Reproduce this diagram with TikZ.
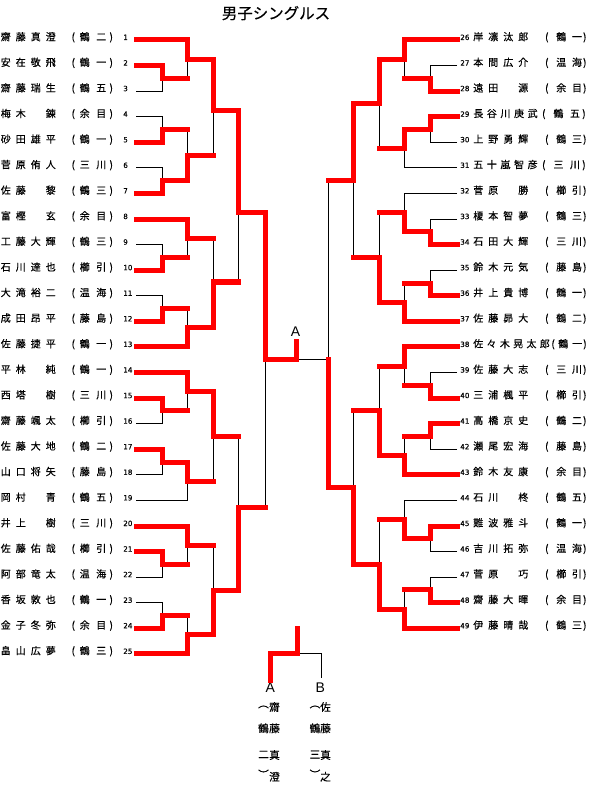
\documentclass[tikz,border=0pt]{standalone}
\usepackage{fontspec}
\setmainfont{Noto Sans CJK JP}
\newfontfamily\cjkb{Noto Sans CJK JP}[FakeBold=0.35]
\newfontfamily\numfont{DejaVu Sans}[FakeBold=0.3]
\newfontfamily\latfont{Liberation Sans}
\pgfdeclarelayer{bg}
\pgfsetlayers{bg,main}
\newdimen\pxu \pxu=0.75pt
% name set in cells of equal pitch
\newcommand\namecells[2]{\def\ncpitch{#1}\ncloop#2\relax}
\def\ncloop#1{\ifx#1\relax\else\makebox[\ncpitch\pxu][c]{#1}\expandafter\ncloop\fi}
% club: (c1c2) with given gaps between centres
\newcommand\clubtext[5]{\makebox[0pt][c]{(}\kern#1\pxu\makebox[0pt][c]{#4}\kern#2\pxu\makebox[0pt][c]{#5}\kern#3\pxu\makebox[0pt][c]{)}}
\tikzset{
  bline/.style={draw=black, line width=0.75pt},
  win/.style={draw=red, line width=3.75pt, line cap=rect, line join=miter},
  txt/.style={inner sep=0pt, anchor=base west, font=\cjkb\fontsize{7.5pt}{8pt}\selectfont},
  num/.style={inner sep=0pt, anchor=base west, font=\numfont\fontsize{5.4pt}{6pt}\selectfont},
  ttl/.style={inner sep=0pt, anchor=base, font=\cjkb\fontsize{11.6pt}{13pt}\selectfont},
  lab/.style={inner sep=0pt, anchor=base, font=\latfont\fontsize{10.5pt}{12pt}\selectfont},
  vch/.style={inner sep=0pt, anchor=center, font=\cjkb\fontsize{8pt}{9pt}\selectfont},
}
% left entrant
\newcommand\entL[4]{%
  \pgfmathsetmacro\yy{40+(#1-1)*25.58}%
  \coordinate (e#1) at (136,\yy);
  \node[txt] (nm#1) at (-2,\yy+0.5) {\namecells{15}{#2}};
  \node[txt] (cl#1) at (73,\yy+0.5) {\clubtext{11.5}{16.5}{10}{#3}{#4}};
  \node[num] (no#1) at (123,\yy) {#1};}
% right entrant, general
\newcommand\entRx[9]{%
  \pgfmathsetmacro\yy{40+(#1-26)*25.58}%
  \pgfmathsetmacro\xs{478-#2/2}%
  \coordinate (e#1) at (457,\yy);
  \node[num] (no#1) at (460,\yy) {#1};
  \node[txt] (nm#1) at (\xs,\yy+0.5) {\namecells{#2}{#3}};
  \node[txt] (cl#1) at (#4,\yy+0.5) {\clubtext{#5}{#6}{#7}{#8}{#9}};}
\newcommand\entR[4]{\entRx{#1}{15}{#2}{546.5}{14.5}{15.7}{7.8}{#3}{#4}}
% bracket helpers
\newcommand\win[2]{\draw[win] (#1) -| (#2);}
\newcommand\losm[2]{\draw[win] (#1) -- (#1 -| #2);
  \begin{pgfonlayer}{bg}\draw[bline] (#1 -| #2) -- (#2);\end{pgfonlayer}}
\newcommand\lose[2]{\begin{pgfonlayer}{bg}\draw[bline] (#1) -| (#2);\end{pgfonlayer}}

\begin{document}
\begin{tikzpicture}[x=0.75pt,y=-0.75pt]
\useasboundingbox (0,0) rectangle (593,791);
\node[ttl] (title) at (276,19) {男子シングルス};

% ---------- entrants ----------
\entL{1}{齋藤真澄}{鶴}{二}
\entL{2}{安在敬飛}{鶴}{一}
\entL{3}{齋藤瑞生}{鶴}{五}
\entL{4}{梅木　錬}{余}{目}
\entL{5}{砂田雄平}{鶴}{一}
\entL{6}{菅原侑人}{三}{川}
\entL{7}{佐藤　黎}{鶴}{三}
\entL{8}{富樫　玄}{余}{目}
\entL{9}{工藤大輝}{鶴}{三}
\entL{10}{石川達也}{櫛}{引}
\entL{11}{大滝裕二}{温}{海}
\entL{12}{成田昂平}{藤}{島}
\entL{13}{佐藤捷平}{鶴}{一}
\entL{14}{平林　純}{鶴}{一}
\entL{15}{西塔　樹}{三}{川}
\entL{16}{齋藤颯太}{櫛}{引}
\entL{17}{佐藤大地}{鶴}{二}
\entL{18}{山口将矢}{藤}{島}
\entL{19}{岡村　青}{鶴}{五}
\entL{20}{井上　樹}{三}{川}
\entL{21}{佐藤佑哉}{櫛}{引}
\entL{22}{阿部竜太}{温}{海}
\entL{23}{香坂敦也}{鶴}{一}
\entL{24}{金子冬弥}{余}{目}
\entL{25}{畠山広夢}{鶴}{三}

\entR{26}{岸凛汰郎}{鶴}{一}
\entR{27}{本間広介}{温}{海}
\entR{28}{遠田　源}{余}{目}
\entRx{29}{13.6}{長谷川庚武}{543.5}{14.7}{16.5}{9}{鶴}{五}
\entR{30}{上野勇輝}{鶴}{三}
\entRx{31}{13.6}{五十嵐智彦}{543.5}{14.7}{16.5}{9}{三}{川}
\entR{32}{菅原　勝}{櫛}{引}
\entR{33}{榎本智夢}{鶴}{三}
\entR{34}{石田大輝}{三}{川}
\entR{35}{鈴木元気}{藤}{島}
\entR{36}{井上貴博}{鶴}{一}
\entR{37}{佐藤昴大}{鶴}{二}
\entRx{38}{13.3}{佐々木晃太郎}{552.8}{10.2}{14}{7.7}{鶴}{一}
\entR{39}{佐藤大志}{三}{川}
\entR{40}{三浦楓平}{櫛}{引}
\entR{41}{高橋京史}{鶴}{二}
\entR{42}{瀬尾宏海}{藤}{島}
\entR{43}{鈴木友康}{余}{目}
\entR{44}{石川　柊}{鶴}{五}
\entR{45}{難波雅斗}{鶴}{一}
\entR{46}{吉川拓弥}{温}{海}
\entR{47}{菅原　巧}{櫛}{引}
\entR{48}{齋藤大暉}{余}{目}
\entR{49}{伊藤晴哉}{鶴}{三}

% ---------- match points (left) ----------
\coordinate (L1a) at (162.3,78.37);
\coordinate (L2a) at (187.7,59.19);
\coordinate (L1b) at (162.3,129.53);
\coordinate (L1c) at (162.3,180.69);
\coordinate (L2b) at (187.7,155.11);
\coordinate (L3a) at (213.3,110.5);
\coordinate (L1d) at (162.3,257.43);
\coordinate (L2c) at (187.7,238.25);
\coordinate (L1e) at (162.3,308.59);
\coordinate (L2d) at (187.7,327.78);
\coordinate (L3b) at (213.3,282);
\coordinate (L4a) at (238.3,212.7);
\coordinate (L1f) at (162.3,410.91);
\coordinate (L2e) at (187.7,391.73);
\coordinate (L1g) at (162.3,462.07);
\coordinate (L2f) at (187.7,481.26);
\coordinate (L3c) at (213.3,436.5);
\coordinate (L1h) at (162.3,564.39);
\coordinate (L2g) at (187.7,545.2);
\coordinate (L1i) at (162.3,615.55);
\coordinate (L2h) at (187.7,634.74);
\coordinate (L3d) at (213.3,590);
\coordinate (L4b) at (238.3,507.3);
\coordinate (L5) at (265,359);
% ---------- match points (right) ----------
\coordinate (R1a) at (430,78.37);
\coordinate (R2a) at (404.3,59.19);
\coordinate (R1b) at (430,129.53);
\coordinate (R2b) at (404.3,148.72);
\coordinate (R3a) at (379,104);
\coordinate (R1c) at (430,231.85);
\coordinate (R2c) at (404.3,212.67);
\coordinate (R1d) at (430,283.01);
\coordinate (R2d) at (404.3,302.2);
\coordinate (R3b) at (379,257.4);
\coordinate (R4a) at (353.3,181);
\coordinate (R1e) at (430,385.33);
\coordinate (R2e) at (404.3,366.15);
\coordinate (R1f) at (430,436.49);
\coordinate (R2f) at (404.3,455.68);
\coordinate (R3c) at (379,410.9);
\coordinate (R1g) at (430,538.81);
\coordinate (R2g) at (404.3,519.63);
\coordinate (R1h) at (430,589.97);
\coordinate (R2h) at (404.3,609.16);
\coordinate (R3d) at (379,564.4);
\coordinate (R4b) at (353.3,487.7);
\coordinate (R5) at (328.3,359);
\coordinate (fin) at (296,359);
\coordinate (fintop) at (296,341);

% ---------- left bracket ----------
\win{e2}{L1a} \lose{e3}{L1a}
\win{e1}{L2a} \losm{L1a}{L2a}
\win{e5}{L1b} \lose{e4}{L1b}
\win{e7}{L1c} \lose{e6}{L1c}
\win{L1c}{L2b} \losm{L1b}{L2b}
\win{L2a}{L3a} \losm{L2b}{L3a}
\win{e10}{L1d} \lose{e9}{L1d}
\win{e8}{L2c} \losm{L1d}{L2c}
\win{e12}{L1e} \lose{e11}{L1e}
\win{e13}{L2d} \losm{L1e}{L2d}
\win{L2d}{L3b} \losm{L2c}{L3b}
\win{L3a}{L4a} \losm{L3b}{L4a}
\win{e15}{L1f} \lose{e16}{L1f}
\win{e14}{L2e} \losm{L1f}{L2e}
\win{e17}{L1g} \lose{e18}{L1g}
\win{L1g}{L2f} \lose{e19}{L2f}
\win{L2e}{L3c} \losm{L2f}{L3c}
\win{e21}{L1h} \lose{e22}{L1h}
\win{e20}{L2g} \losm{L1h}{L2g}
\win{e24}{L1i} \lose{e23}{L1i}
\win{e25}{L2h} \losm{L1i}{L2h}
\win{L2h}{L3d} \losm{L2g}{L3d}
\win{L3d}{L4b} \losm{L3c}{L4b}
\win{L4a}{L5} \losm{L4b}{L5}
% ---------- right bracket ----------
\win{e28}{R1a} \lose{e27}{R1a}
\win{e26}{R2a} \losm{R1a}{R2a}
\win{e29}{R1b} \lose{e30}{R1b}
\win{R1b}{R2b} \lose{e31}{R2b}
\win{R2a}{R3a} \losm{R2b}{R3a}
\win{e34}{R1c} \lose{e33}{R1c}
\win{R1c}{R2c} \lose{e32}{R2c}
\win{e36}{R1d} \lose{e35}{R1d}
\win{e37}{R2d} \losm{R1d}{R2d}
\win{R2d}{R3b} \losm{R2c}{R3b}
\win{R3a}{R4a} \losm{R3b}{R4a}
\win{e40}{R1e} \lose{e39}{R1e}
\win{e38}{R2e} \losm{R1e}{R2e}
\win{e41}{R1f} \lose{e42}{R1f}
\win{e43}{R2f} \losm{R1f}{R2f}
\win{R2f}{R3c} \losm{R2e}{R3c}
\win{e45}{R1g} \lose{e46}{R1g}
\win{R1g}{R2g} \lose{e44}{R2g}
\win{e48}{R1h} \lose{e47}{R1h}
\win{e49}{R2h} \losm{R1h}{R2h}
\win{R2h}{R3d} \losm{R2g}{R3d}
\win{R3d}{R4b} \losm{R3c}{R4b}
\win{R4b}{R5} \losm{R4a}{R5}
% ---------- final ----------
\begin{pgfonlayer}{bg}\draw[bline] (R5) -- (fin);\end{pgfonlayer}
\draw[win] (L5) -- (fin) -- (fintop);
\node[lab] (topA) at (295.5,336) {A};

% ---------- final diagram below ----------
\node[lab] (fa) at (270.3,692.5) {A};
\node[lab] (fb) at (320.3,692.5) {B};
\coordinate (fm) at (297,653);
\coordinate (ftop) at (297,628);
\coordinate (fabot) at (270.3,680);
\coordinate (fbbot) at (321,678);
\begin{pgfonlayer}{bg}\draw[bline] (fm) -| (fbbot);\end{pgfonlayer}
\draw[win] (fabot) |- (fm) -- (ftop);

\node[vch] (a1) at (263.5,707) {︵};
\node[vch] (a2) at (263.5,728.3) {鶴};
\node[vch] (a3) at (263.5,754.5) {二};
\node[vch] (a4) at (263.5,774) {︶};
\node[vch] (a5) at (274.5,707) {齋};
\node[vch] (a6) at (274.5,728.3) {藤};
\node[vch] (a7) at (274.5,755) {真};
\node[vch] (a8) at (274.5,776.7) {澄};
\node[vch] (b1) at (315,707) {︵};
\node[vch] (b2) at (315,728.3) {鶴};
\node[vch] (b3) at (315,754.5) {三};
\node[vch] (b4) at (315,774) {︶};
\node[vch] (b5) at (325.5,707) {佐};
\node[vch] (b6) at (325.5,728.3) {藤};
\node[vch] (b7) at (325.5,755) {真};
\node[vch] (b8) at (325.5,776.7) {之};
\end{tikzpicture}
\end{document}
